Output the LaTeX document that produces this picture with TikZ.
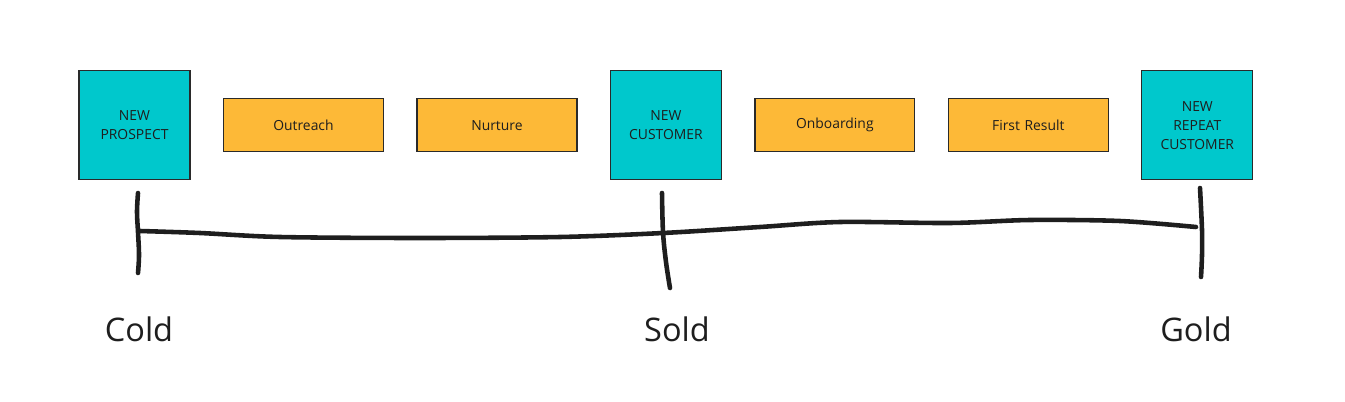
\documentclass[tikz,border=0pt]{standalone}
\usepackage{fontspec}
\setmainfont{Open Sans}
\usepackage{tikz}
\usetikzlibrary{positioning}
\definecolor{cteal}{HTML}{00C8CC}
\definecolor{corange}{HTML}{FDB937}
\definecolor{cedge}{HTML}{2A2A2A}
\definecolor{cink}{HTML}{1E1E1E}
\tikzset{
  stage/.style={rectangle, draw=cedge, fill=cteal, line width=0.7pt, outer sep=0pt,
              minimum width=2.22cm, minimum height=2.18cm, text width=2cm, align=center,
              inner sep=0pt, text=cink, font=\fontsize{7.9}{10.8}\selectfont},
  task/.style={rectangle, draw=cedge, fill=corange, line width=0.7pt, outer sep=0pt,
              minimum width=3.2cm, minimum height=1.06cm, text width=3cm, align=center,
              inner sep=0pt, text=cink, font=\fontsize{7.9}{10.8}\selectfont},
  pen/.style={line width=2.6pt, draw=cink, line cap=round, line join=round},
  phase/.style={font=\fontsize{18.5}{22}\selectfont, text=cink, anchor=base, inner sep=0pt}
}
\begin{document}
\begin{tikzpicture}[x=0.02cm, y=-0.02cm, node distance=0.67cm]
\useasboundingbox (0,0) rectangle (1345,402);
\node[stage] (prospect) at (134.5,125.3) {NEW\\PROSPECT};
\node[task, right=of prospect] (outreach) {Outreach};
\node[task, right=of outreach] (nurture) {Nurture};
\node[stage, right=of nurture] (customer) {NEW\\CUSTOMER};
\node[task, right=of customer] (onboard) {Onboarding};
\node[task, right=of onboard] (result) {First Result};
\node[stage, right=of result] (repeat) {NEW\\REPEAT\\CUSTOMER};
% hand drawn timeline
\draw[pen] plot[smooth, tension=0.6] coordinates {(138,193) (137,212) (138,232) (139,255) (138,273)};
\draw[pen] plot[smooth, tension=0.6] coordinates {(662,193) (663,232) (666,262) (670,288)};
\draw[pen] plot[smooth, tension=0.6] coordinates {(1200,188) (1202,230) (1202,255) (1201,277)};
\draw[pen] plot[smooth] coordinates {(140,231) (200,233) (280,237) (420,238) (560,237) (663,233)
  (760,227) (840,222) (950,223) (1030,220) (1120,221) (1196,227)};
\node[phase] (cold) at (139,341) {Cold};
\node[phase] (sold) at (677,341) {Sold};
\node[phase] (gold) at (1196,341) {Gold};
\end{tikzpicture}
\end{document}
